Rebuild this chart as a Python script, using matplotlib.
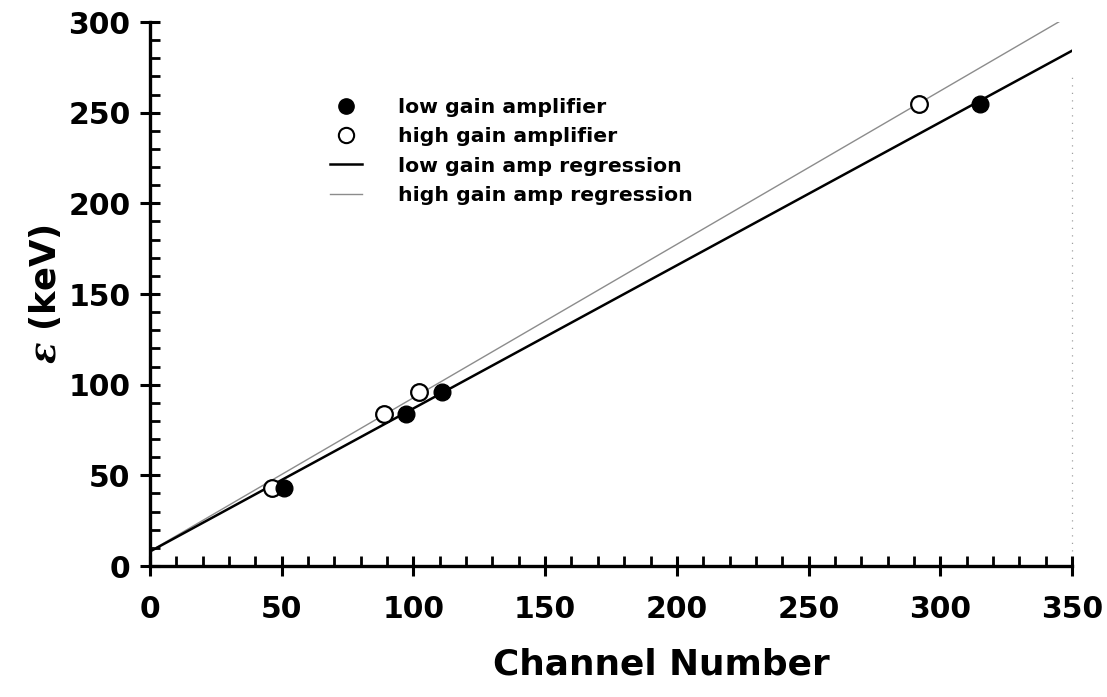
import matplotlib
matplotlib.use("Agg")
import matplotlib.pyplot as plt
import numpy as np
from matplotlib.lines import Line2D
from matplotlib.ticker import MultipleLocator

plt.rcParams['font.family'] = ['DejaVu Sans']
plt.rcParams['font.weight'] = 'bold'
plt.rcParams['mathtext.fontset'] = 'custom'
plt.rcParams['mathtext.it'] = 'DejaVu Serif:italic'

# Calibration points: channel number vs. photon energy (keV)
low_channel = [51, 97, 111, 315]
low_energy = [43, 84, 96, 255]
high_channel = [46.5, 89, 102, 292]
high_energy = [43, 84, 96, 255]

# Linear regressions (slope, intercept)
low_fit = (0.789, 8.0)
high_fit = (0.846, 8.2)

x_ticks = [0, 50, 100, 150, 200, 250, 300, 350]
y_ticks = [0, 50, 100, 150, 200, 250, 300]

W, H = 1107, 697
fig = plt.figure(figsize=(W / 100, H / 100), dpi=100)
ax = fig.add_axes([150 / W, 1 - 566 / H, (1072 - 150) / W, (566 - 22) / H])

xs = np.linspace(0, 350, 200)
ax.plot(xs, high_fit[0] * xs + high_fit[1], color='#8c8c8c', lw=1.0, zorder=2)
ax.plot(xs, low_fit[0] * xs + low_fit[1], color='black', lw=1.8, zorder=2)

ax.plot(high_channel, high_energy, 'o', ms=12, mfc='white', mec='black', mew=1.6,
        ls='none', zorder=3)
ax.plot(low_channel, low_energy, 'o', ms=12, mfc='black', mec='black',
        ls='none', zorder=4)

# faint dotted frame edge on the right
ax.plot([350, 350], [0, 270], color='#a0a0a0', lw=0.9, ls=(0, (1, 5)),
        clip_on=False, zorder=1)

ax.set_xlim(0, 350)
ax.set_ylim(0, 300)

for s in ['top', 'right']:
    ax.spines[s].set_visible(False)
for s in ['left', 'bottom']:
    ax.spines[s].set_linewidth(2.4)

ax.set_xticks(x_ticks)
ax.set_yticks(y_ticks)
ax.xaxis.set_minor_locator(MultipleLocator(10))
ax.yaxis.set_minor_locator(MultipleLocator(10))
ax.tick_params(which='major', direction='inout', length=14, width=2.2,
               labelsize=21.5)
ax.tick_params(axis='x', which='major', pad=14)
ax.tick_params(axis='y', which='major', pad=7)
ax.tick_params(which='minor', direction='in', length=7, width=2.0)
for lab in ax.get_xticklabels() + ax.get_yticklabels():
    lab.set_fontweight('bold')

ax.set_xlabel('Channel Number', fontsize=25.8, fontweight='bold')
ax.xaxis.set_label_coords(0.555, -0.15)
ax.set_ylabel(r'$\varepsilon$ (keV)', fontsize=25.5, fontweight='bold')
ax.yaxis.set_label_coords(-0.094, 0.5)

handles = [
    Line2D([], [], marker='o', ls='none', ms=11, mfc='black', mec='black'),
    Line2D([], [], marker='o', ls='none', ms=11, mfc='white', mec='black', mew=1.5),
    Line2D([], [], color='black', lw=1.8),
    Line2D([], [], color='#8c8c8c', lw=1.0),
]
labels = ['low gain amplifier', 'high gain amplifier',
          'low gain amp regression', 'high gain amp regression']
leg = ax.legend(handles, labels, loc='upper left', bbox_to_anchor=(0.186, 0.875),
                frameon=False, prop={'size': 14.7, 'weight': 'bold'},
                handlelength=1.6, handletextpad=1.75, labelspacing=0.5,
                borderaxespad=0.0)

fig.savefig('out.png', dpi=100)
